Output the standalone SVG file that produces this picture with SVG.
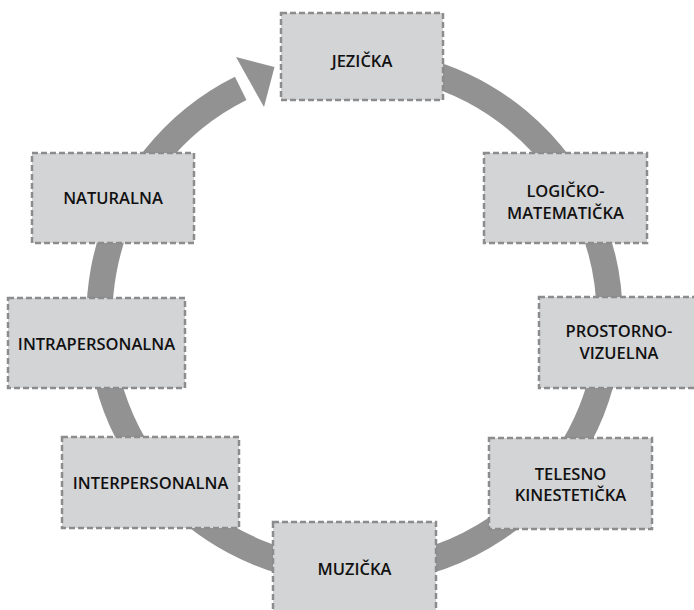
<svg xmlns="http://www.w3.org/2000/svg" width="694" height="610" viewBox="0 0 694 610">
<style>
.box{fill:#d3d4d6;stroke:#8c8c8c;stroke-width:2.5;stroke-dasharray:6 3}
.lbl{font-family:"Open Sans","Liberation Sans",sans-serif;font-weight:600;font-size:16.5px;fill:#111111;text-anchor:middle}
.ring{fill:none;stroke:#929292;stroke-width:26}
</style>
<rect width="694" height="610" fill="#ffffff"/>
<g id="connectors">
<path class="ring" d="M 420.5 70.2 A 255 255 0 1 1 240.7 88.3"/>
<polygon points="236,57 274.5,67 264,107" fill="#929292"/>
</g>
<g id="jezicka"><rect class="box" x="281" y="13" width="162" height="87"/><text class="lbl" x="362" y="67">JEZIČKA</text></g>
<g id="logicko"><rect class="box" x="484" y="153" width="163" height="90"/><text class="lbl" x="565.5" y="197">LOGIČKO-</text><text class="lbl" x="565.5" y="218.5">MATEMATIČKA</text></g>
<g id="prostorno"><rect class="box" x="539" y="297" width="158" height="91"/><text class="lbl" x="619" y="337">PROSTORNO-</text><text class="lbl" x="619" y="358.5">VIZUELNA</text></g>
<g id="telesno"><rect class="box" x="489" y="438" width="163" height="91"/><text class="lbl" x="570.5" y="480">TELESNO</text><text class="lbl" x="570.5" y="501">KINESTETIČKA</text></g>
<g id="muzicka"><rect class="box" x="273" y="522" width="163" height="92"/><text class="lbl" x="354.5" y="575">MUZIČKA</text></g>
<g id="interpersonalna"><rect class="box" x="62" y="437" width="177" height="91"/><text class="lbl" x="150.5" y="489">INTERPERSONALNA</text></g>
<g id="intrapersonalna"><rect class="box" x="8" y="298" width="177" height="90"/><text class="lbl" x="96.5" y="350">INTRAPERSONALNA</text></g>
<g id="naturalna"><rect class="box" x="32" y="153" width="162" height="90"/><text class="lbl" x="113" y="204">NATURALNA</text></g>
</svg>
